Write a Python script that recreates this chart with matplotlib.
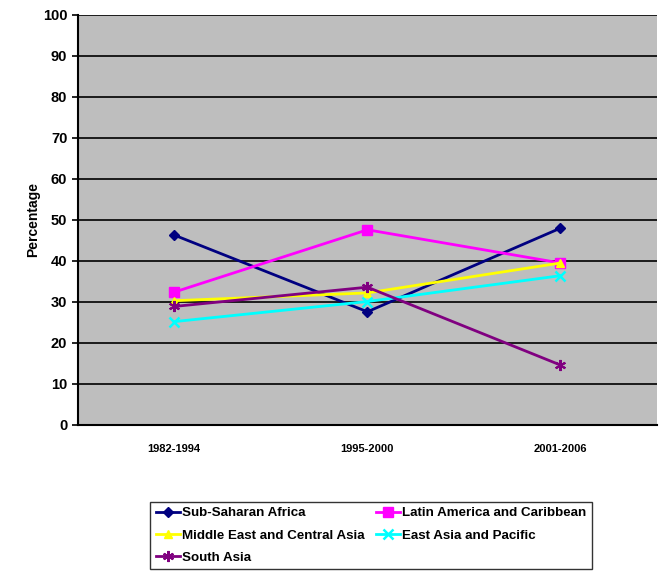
import matplotlib
matplotlib.use("Agg")
import matplotlib.pyplot as plt

periods = ["1982-1994", "1995-2000", "2001-2006"]
sub_saharan = [46.3, 27.6, 48.0]
latin_america = [32.4, 47.6, 39.5]
middle_east = [30.3, 32.2, 39.5]
east_asia = [25.2, 30.1, 36.4]
south_asia = [28.9, 33.6, 14.6]

plt.rcParams['font.family'] = ['Liberation Sans', 'DejaVu Sans']
plt.rcParams['font.weight'] = 'bold'

fig = plt.figure(figsize=(6.59, 5.75), dpi=100)
ax = fig.add_axes([0.118, 0.261, 0.879, 0.713])
ax.set_facecolor('#BEBEBE')

x = range(len(periods))
l1, = ax.plot(x, sub_saharan, color='#000080', marker='D', markersize=5, lw=2, label="Sub-Saharan Africa")
l2, = ax.plot(x, latin_america, color='#FF00FF', marker='s', markersize=7, lw=2, label="Latin America and Caribbean")
l3, = ax.plot(x, middle_east, color='#FFFF00', marker='^', markersize=6, lw=2, label="Middle East and Central Asia")
l4, = ax.plot(x, east_asia, color='#00FFFF', marker='x', markersize=7, mew=1.8, lw=2, label="East Asia and Pacific")
l5, = ax.plot(x, south_asia, color='#800080', marker=(6, 2, 0), markersize=8, mew=1.5, lw=2, label="South Asia")

ax.set_xlim(-0.5, 2.5)
ax.set_ylim(0, 100)
ax.set_yticks(range(0, 101, 10))
ax.set_xticks(list(x))
ax.set_xticklabels(periods, fontsize=8, fontweight='bold')
ax.tick_params(axis='y', labelsize=10.5, length=4, width=1.2, direction='out')
ax.tick_params(axis='x', length=0, pad=14)
ax.yaxis.grid(True, color='black', lw=1.2)
ax.set_axisbelow(True)
for s in ['top', 'right']:
    ax.spines[s].set_visible(False)
ax.spines['left'].set_linewidth(1.5)
ax.spines['bottom'].set_linewidth(1.5)
ax.set_ylabel("Percentage", fontsize=10, fontweight='bold', labelpad=2)

# two columns filled row by row
handles = [l1, l3, l5, l2, l4]
leg = fig.legend(handles=handles, labels=[h.get_label() for h in handles],
                 loc='lower left', bbox_to_anchor=(0.228, 0.01), ncol=2, fontsize=9.6,
                 frameon=True, fancybox=False, edgecolor='black', handlelength=1.8,
                 handletextpad=0.2, columnspacing=0.8, labelspacing=0.75, borderpad=0.4,
                 borderaxespad=0)
leg.get_frame().set_linewidth(1.0)

fig.savefig("out.png", dpi=100)
